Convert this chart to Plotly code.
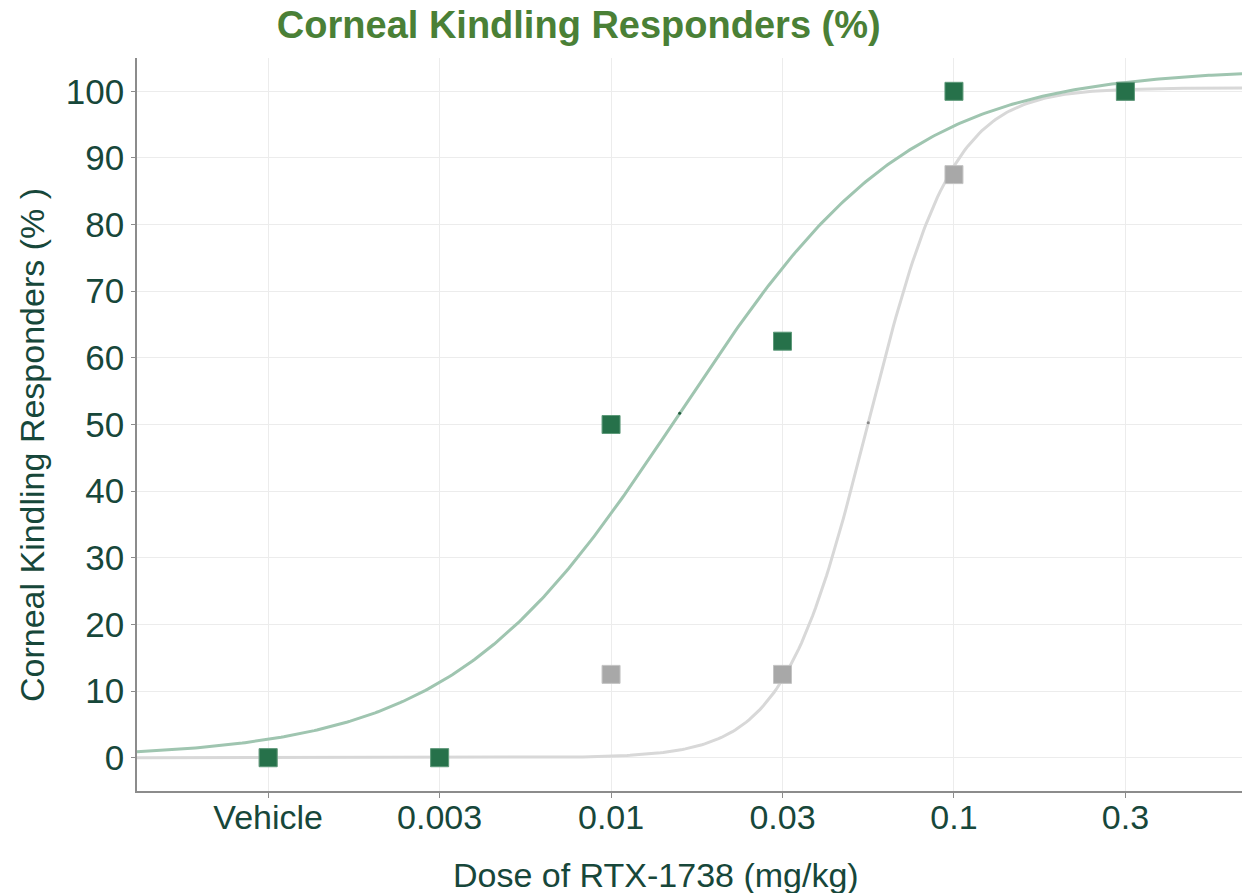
import numpy as np
import plotly.graph_objects as go

# Doses on a categorical scale (index positions 0..5)
doses = ["Vehicle", "0.003", "0.01", "0.03", "0.1", "0.3"]
dose_pos = [0, 1, 2, 3, 4, 5]

# Percentage of responders per dose
responders_a = [0, 0, 50, 62.5, 100, 100]      # dark green series
responders_b = [0, 0, 12.5, 12.5, 87.5, 100]   # grey series

# Fitted logistic parameters (bottom, top, midpoint, slope) on the index scale
fit_a = dict(bottom=0.0, top=103.4, mid=2.40, slope=1.50)
fit_b = dict(bottom=0.0, top=100.5, mid=3.50, slope=4.05)

X_RANGE = [-0.765, 5.68]
Y_RANGE = [-5, 105]

GREEN = "#26714a"
GREEN_LINE = "#9fc5b0"
GREY = "#a8a8a8"
GREY_LINE = "#d8d8d8"
TEXT = "#17473a"
TITLE = "#4a8036"
FONT = "Liberation Sans, Arial, sans-serif"


def logistic(x, p):
    return p["bottom"] + (p["top"] - p["bottom"]) / (1 + np.exp(-p["slope"] * (x - p["mid"])))


xs = np.linspace(X_RANGE[0], X_RANGE[1], 400)

fig = go.Figure()

# Fitted curves
fig.add_trace(go.Scatter(x=xs, y=logistic(xs, fit_b), mode="lines",
                         line=dict(color=GREY_LINE, width=3), hoverinfo="skip"))
fig.add_trace(go.Scatter(x=xs, y=logistic(xs, fit_a), mode="lines",
                         line=dict(color=GREEN_LINE, width=3), hoverinfo="skip"))

# Midpoint dots on each curve
fig.add_trace(go.Scatter(x=[fit_b["mid"]], y=[logistic(fit_b["mid"], fit_b)], mode="markers",
                         marker=dict(color="#888888", size=3)))
fig.add_trace(go.Scatter(x=[fit_a["mid"]], y=[logistic(fit_a["mid"], fit_a)], mode="markers",
                         marker=dict(color="#1f5a3c", size=3)))

# Observed data
fig.add_trace(go.Scatter(x=dose_pos, y=responders_b, mode="markers",
                         marker=dict(symbol="square", size=18, color=GREY,
                                     line=dict(color="#c4c4c4", width=1))))
fig.add_trace(go.Scatter(x=dose_pos, y=responders_a, mode="markers",
                         marker=dict(symbol="square", size=18, color=GREEN,
                                     line=dict(color="#5e9a7a", width=1))))

fig.update_layout(
    width=1242, height=893,
    margin=dict(l=137, r=0, t=58, b=102),
    paper_bgcolor="white", plot_bgcolor="white",
    showlegend=False,
    font=dict(family=FONT, color=TEXT),
    title=dict(text="<b>Corneal Kindling Responders (%)</b>",
               font=dict(size=38, color=TITLE, family=FONT),
               x=0.466, xanchor="center", y=0.972, yanchor="middle"),
    annotations=[
        dict(text="Dose of RTX-1738 (mg/kg)", xref="paper", yref="paper",
             x=0.4697, y=-0.1146, xanchor="center", yanchor="middle",
             showarrow=False, font=dict(size=34, color=TEXT, family=FONT)),
        dict(text="Corneal Kindling Responders (% )", xref="paper", yref="paper",
             x=-0.095, y=0.472, xanchor="center", yanchor="middle", textangle=-90,
             showarrow=False, font=dict(size=34, color=TEXT, family=FONT)),
    ],
)

fig.update_xaxes(
    range=X_RANGE, tickmode="array", tickvals=dose_pos, ticktext=doses,
    showgrid=True, gridcolor="#ececec", gridwidth=1, zeroline=False,
    showline=True, linecolor="#8c8c8c", linewidth=1.5,
    ticks="outside", ticklen=5, tickcolor="#8c8c8c",
    tickfont=dict(size=34, color=TEXT), ticklabelstandoff=-10,
)

fig.update_yaxes(
    range=Y_RANGE, tickmode="array", tickvals=list(range(0, 101, 10)),
    showgrid=True, gridcolor="#ececec", gridwidth=1, zeroline=False,
    showline=True, linecolor="#8c8c8c", linewidth=1.5,
    ticks="outside", ticklen=4, tickcolor="#8c8c8c",
    tickfont=dict(size=35, color=TEXT),
)

fig.write_html("out.html")
